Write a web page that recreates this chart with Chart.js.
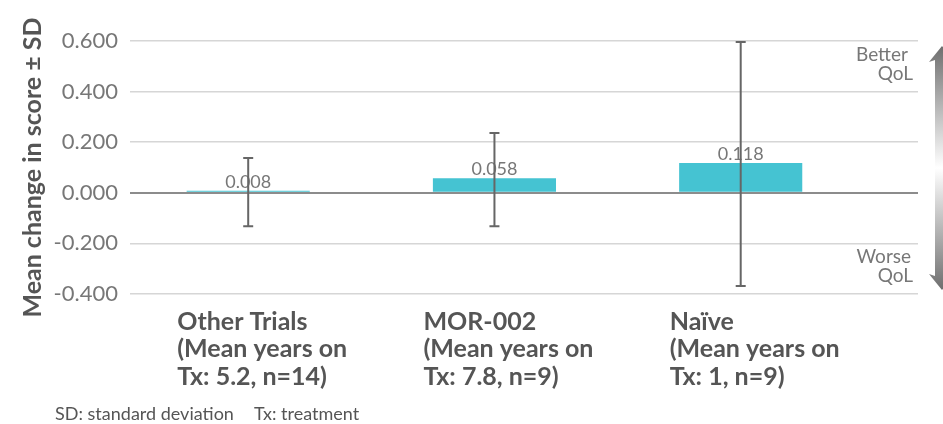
<!DOCTYPE html>
<html lang="en">
<head>
  <meta charset="UTF-8">
  <title>Mean change in score</title>
  <style>
    body {
      margin: 0;
      background: #ffffff;
      font-family: Lato, Arial, sans-serif;
    }
    #wrap {
      position: relative;
      width: 943px;
      height: 424px;
      overflow: hidden;
    }
    #footnote {
      position: absolute;
      left: 55px;
      top: 403px;
      font-size: 18px;
      line-height: 20px;
      color: #555555;
      white-space: nowrap;
    }
    #footnote span + span {
      margin-left: 20px;
    }
  </style>
</head>
<body>
  <div id="wrap">
    <canvas id="chart"></canvas>
    <div id="footnote"><span>SD: standard deviation</span><span>Tx: treatment</span></div>
  </div>

  <script src="https://cdn.jsdelivr.net/npm/chart.js"></script>
  <script>
    const categories = [
      ['Other Trials', '(Mean years on', 'Tx: 5.2, n=14)'],
      ['MOR-002', '(Mean years on', 'Tx: 7.8, n=9)'],
      ['Naïve', '(Mean years on', 'Tx: 1, n=9)']
    ];
    const meanChange = [0.008, 0.058, 0.118];
    const errHigh = [0.138, 0.236, 0.596];
    const errLow = [-0.132, -0.132, -0.368];
    const yTicks = [-0.4, -0.2, 0, 0.2, 0.4, 0.6];

    const barColor = '#45c3d2';

    // labels over the bars, then the SD whiskers on top of them
    const barExtras = {
      id: 'barExtras',
      afterDatasetsDraw(chart) {
        const ctx = chart.ctx;
        const y = chart.scales.y;
        const meta = chart.getDatasetMeta(0);
        ctx.save();
        ctx.font = '18px Lato';
        ctx.fillStyle = '#777777';
        ctx.textAlign = 'center';
        ctx.textBaseline = 'alphabetic';
        meta.data.forEach((bar, i) => {
          ctx.fillText(meanChange[i].toFixed(3), bar.x, bar.y - 3);
        });
        ctx.strokeStyle = '#666666';
        ctx.lineWidth = 2;
        meta.data.forEach((bar, i) => {
          const top = y.getPixelForValue(errHigh[i]);
          const bot = y.getPixelForValue(errLow[i]);
          ctx.beginPath();
          ctx.moveTo(bar.x, top);
          ctx.lineTo(bar.x, bot);
          ctx.moveTo(bar.x - 5, top);
          ctx.lineTo(bar.x + 5, top);
          ctx.moveTo(bar.x - 5, bot);
          ctx.lineTo(bar.x + 5, bot);
          ctx.stroke();
        });
        ctx.restore();
      }
    };

    // "Better / Worse QoL" notes and the grey arrow at the right
    const qolNotes = {
      id: 'qolNotes',
      afterDraw(chart) {
        const ctx = chart.ctx;
        const a = chart.chartArea;
        ctx.save();
        ctx.font = '19px Lato';
        ctx.fillStyle = '#777777';
        ctx.textAlign = 'right';
        ctx.textBaseline = 'middle';
        ctx.fillText('Better', a.right - 10, a.top + 14);
        ctx.fillText('QoL', a.right - 5, a.top + 33);
        ctx.fillText('Worse', a.right - 7, a.bottom - 37);
        ctx.fillText('QoL', a.right - 5, a.bottom - 18);

        const cx = a.right + 24;
        const top = a.top + 5;
        const bot = a.bottom - 4;
        const grad = ctx.createLinearGradient(0, top, 0, bot);
        grad.addColorStop(0, '#6e6e6e');
        grad.addColorStop(0.5, '#ffffff');
        grad.addColorStop(1, '#6e6e6e');
        ctx.fillStyle = grad;
        ctx.beginPath();
        ctx.moveTo(cx, top);
        ctx.lineTo(cx + 13, top + 16);
        ctx.lineTo(cx + 7, top + 14);
        ctx.lineTo(cx + 7, bot - 14);
        ctx.lineTo(cx + 13, bot - 16);
        ctx.lineTo(cx, bot);
        ctx.lineTo(cx - 13, bot - 16);
        ctx.lineTo(cx - 7, bot - 14);
        ctx.lineTo(cx - 7, top + 14);
        ctx.lineTo(cx - 13, top + 16);
        ctx.closePath();
        ctx.fill();
        ctx.restore();
      }
    };

    Chart.defaults.font.family = 'Lato';

    new Chart(document.getElementById('chart'), {
      type: 'bar',
      data: {
        datasets: [{
          data: meanChange.map((v, i) => ({ x: i, y: v })),
          backgroundColor: barColor,
          borderWidth: 0,
          categoryPercentage: 0.5,
          barPercentage: 1.0
        }]
      },
      options: {
        responsive: true,
        maintainAspectRatio: false,
        animation: false,
        layout: {
          padding: { top: 41, right: 25, bottom: 30, left: 0 }
        },
        plugins: {
          legend: { display: false },
          tooltip: { enabled: false }
        },
        scales: {
          x: {
            type: 'linear',
            min: -0.48,
            max: 2.72,
            offset: false,
            grid: { display: false, drawTicks: false },
            border: { display: false },
            afterBuildTicks: (scale) => {
              scale.ticks = categories.map((c, i) => ({ value: i }));
            },
            afterFit: (scale) => { scale.height = 100; },
            ticks: {
              autoSkip: false,
              maxRotation: 0,
              align: 'start',
              labelOffset: -71,
              padding: 14,
              color: '#555555',
              font: { size: 25, weight: 'bold', lineHeight: 1.1 },
              callback: (v) => categories[v]
            }
          },
          y: {
            min: -0.4,
            max: 0.6,
            afterBuildTicks: (scale) => {
              scale.ticks = yTicks.map(v => ({ value: v }));
            },
            afterFit: (scale) => { scale.width = 130; },
            border: { display: false },
            grid: {
              drawTicks: false,
              color: (c) => c.tick && c.tick.value === 0 ? '#8c8c8c' : '#d6d6d6',
              lineWidth: (c) => c.tick && c.tick.value === 0 ? 2 : 1.5
            },
            ticks: {
              padding: 12,
              color: '#777777',
              font: { size: 22 },
              callback: (v) => v.toFixed(3)
            },
            title: {
              display: true,
              text: 'Mean change in score ± SD',
              color: '#555555',
              font: { size: 25, weight: 'bold' },
              padding: { top: 18, bottom: 0 }
            }
          }
        }
      },
      plugins: [barExtras, qolNotes]
    });
  </script>
</body>
</html>
